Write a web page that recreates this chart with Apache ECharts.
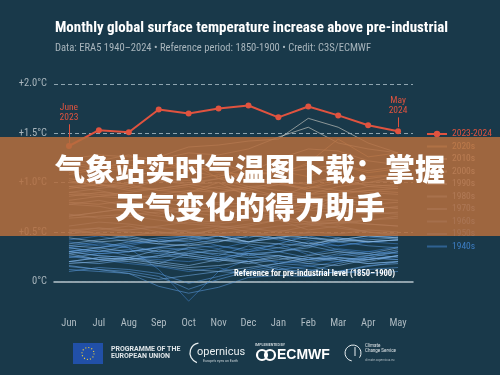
<!DOCTYPE html>
<html lang="en">
<head>
<meta charset="utf-8">
<script src="https://cdn.jsdelivr.net/npm/echarts@6/dist/echarts.min.js"></script>
</head>
<body style="margin:0;background:#19394a">
<div id="chart" style="width:500px;height:375px"></div>
<script>
// months run Jun -> May
var months = ['Jun','Jul','Aug','Sep','Oct','Nov','Dec','Jan','Feb','Mar','Apr','May'];
var recent = [1.37,1.53,1.51,1.74,1.70,1.75,1.78,1.66,1.77,1.68,1.58,1.52];

var d1940s = [
  [0.32,0.28,0.30,0.35,0.38,0.33,0.40,0.45,0.42,0.36,0.40,0.38],
  [0.42,0.46,0.40,0.38,0.44,0.36,0.30,0.38,0.27,0.33,0.30,0.35],
  [0.30,0.26,0.24,0.22,0.20,0.24,0.28,0.18,0.22,0.26,0.30,0.28],
  [0.34,0.38,0.36,0.42,0.46,0.40,0.48,0.42,0.36,0.40,0.44,0.46],
  [0.48,0.50,0.52,0.55,0.50,0.46,0.40,0.44,0.38,0.36,0.40,0.42],
  [0.40,0.36,0.34,0.12,-0.20,0.10,0.22,0.20,0.18,0.24,0.22,0.26],
  [0.25,0.22,0.18,0.15,0.10,0.14,0.06,0.12,0.15,0.20,0.24,0.22]
];
var d1950s = [
  [0.10,0.14,0.12,0.08,-0.02,0.05,0.12,0.18,0.16,0.10,0.15,0.20],
  [0.24,0.28,0.30,0.34,0.32,0.26,0.36,0.30,0.24,0.20,0.26,0.32],
  [0.34,0.30,0.32,0.28,0.26,0.22,0.30,0.34,0.40,0.32,0.28,0.24],
  [0.15,0.12,0.10,0.05,-0.08,0.02,0.10,0.16,0.12,0.08,0.12,0.14],
  [0.12,0.10,0.08,-0.05,-0.12,-0.06,0.04,0.06,0.05,0.10,0.08,0.10],
  [0.30,0.34,0.38,0.42,0.40,0.46,0.44,0.52,0.48,0.44,0.40,0.42],
  [0.36,0.40,0.34,0.30,0.34,0.36,0.32,0.38,0.46,0.40,0.36,0.34]
];
var d1960s = [
  [0.34,0.30,0.36,0.30,0.28,0.32,0.26,0.30,0.36,0.30,0.26,0.30],
  [0.28,0.32,0.26,0.24,0.30,0.28,0.24,0.26,0.22,0.28,0.24,0.30],
  [0.30,0.34,0.40,0.44,0.46,0.42,0.38,0.34,0.30,0.22,0.18,0.20],
  [0.16,0.12,0.08,0.02,0.06,0.10,0.08,0.14,0.06,0.10,0.16,0.18],
  [0.20,0.18,0.22,0.26,0.24,0.20,0.28,0.26,0.22,0.24,0.20,0.26],
  [0.26,0.22,0.24,0.18,0.28,0.24,0.20,0.12,0.10,0.18,0.24,0.22],
  [0.20,0.24,0.22,0.26,0.34,0.30,0.28,0.30,0.34,0.42,0.46,0.44]
];
var d1970s = [
  [0.30,0.26,0.24,0.32,0.26,0.22,0.20,0.24,0.18,0.16,0.22,0.26],
  [0.18,0.20,0.24,0.20,0.16,0.22,0.18,0.22,0.26,0.30,0.28,0.34],
  [0.38,0.42,0.46,0.40,0.44,0.48,0.52,0.56,0.58,0.54,0.50,0.46],
  [0.20,0.24,0.22,0.18,0.14,0.16,0.20,0.26,0.20,0.24,0.22,0.26],
  [0.28,0.22,0.20,0.16,0.12,0.10,0.14,0.18,0.24,0.22,0.18,0.20],
  [0.46,0.48,0.44,0.40,0.42,0.46,0.40,0.48,0.44,0.40,0.42,0.44],
  [0.36,0.34,0.30,0.34,0.38,0.42,0.40,0.38,0.36,0.44,0.40,0.42]
];
var d1980s = [
  [0.52,0.54,0.50,0.48,0.52,0.56,0.50,0.46,0.44,0.42,0.46,0.44],
  [0.48,0.52,0.56,0.50,0.46,0.54,0.58,0.62,0.52,0.56,0.50,0.48],
  [0.56,0.60,0.58,0.54,0.50,0.46,0.40,0.44,0.38,0.42,0.40,0.42],
  [0.44,0.40,0.42,0.38,0.36,0.40,0.46,0.44,0.50,0.48,0.52,0.50],
  [0.50,0.54,0.52,0.56,0.60,0.58,0.62,0.64,0.60,0.58,0.62,0.64],
  [0.66,0.70,0.74,0.72,0.68,0.74,0.78,0.76,0.80,0.72,0.70,0.68],
  [0.68,0.64,0.66,0.62,0.58,0.56,0.54,0.50,0.56,0.60,0.58,0.56]
];
var d1990s = [
  [0.66,0.70,0.74,0.68,0.76,0.72,0.70,0.74,0.72,0.70,0.76,0.74],
  [0.78,0.76,0.70,0.66,0.62,0.60,0.64,0.66,0.60,0.62,0.58,0.56],
  [0.52,0.48,0.46,0.50,0.48,0.52,0.56,0.62,0.58,0.60,0.62,0.66],
  [0.64,0.66,0.68,0.70,0.76,0.80,0.78,0.84,0.86,0.80,0.76,0.74],
  [0.78,0.82,0.76,0.72,0.70,0.66,0.64,0.70,0.76,0.72,0.68,0.70],
  [0.90,0.94,0.98,1.02,1.00,1.04,1.08,1.10,1.18,1.06,1.00,1.02],
  [0.96,0.92,0.86,0.80,0.76,0.72,0.74,0.70,0.80,0.74,0.72,0.76]
];
var d2000s = [
  [0.80,0.78,0.82,0.76,0.72,0.70,0.74,0.78,0.76,0.86,0.84,0.82],
  [0.86,0.90,0.88,0.84,0.90,0.96,0.92,0.98,1.00,1.06,0.96,0.94],
  [0.96,0.98,0.92,0.94,0.98,1.00,0.94,1.00,0.92,0.90,0.96,0.98],
  [0.88,0.86,0.90,0.94,0.98,1.04,0.96,0.98,0.94,1.00,0.98,0.96],
  [1.00,0.98,0.94,1.02,0.98,0.94,0.90,0.86,0.96,0.92,0.90,0.88],
  [0.90,0.88,0.86,0.84,0.80,0.78,0.74,0.68,0.72,0.84,0.78,0.80],
  [0.82,0.86,0.84,0.88,0.92,0.90,0.96,0.92,0.88,0.90,0.92,0.94]
];
var d2010s = [
  [1.00,1.02,0.98,0.92,0.90,1.00,0.86,0.82,0.84,0.88,0.92,0.90],
  [0.94,0.98,0.96,0.92,0.96,0.90,0.94,0.86,0.88,0.96,1.00,1.06],
  [1.02,0.96,1.00,1.04,1.02,1.08,1.04,1.02,0.98,1.06,1.04,1.08],
  [1.04,1.00,1.08,1.10,1.12,1.06,1.16,1.10,1.14,1.18,1.12,1.16],
  [1.18,1.14,1.22,1.26,1.36,1.38,1.42,1.44,1.65,1.56,1.40,1.30],
  [1.20,1.22,1.28,1.16,1.14,1.20,1.10,1.24,1.34,1.32,1.22,1.18],
  [1.24,1.28,1.26,1.24,1.30,1.28,1.34,1.46,1.56,1.40,1.34,1.30]
];
var d2020s = [
  [1.20,1.16,1.14,1.22,1.12,1.16,1.02,1.00,0.94,1.04,1.06,1.08],
  [1.08,1.14,1.12,1.20,1.18,1.10,1.08,1.12,1.06,1.18,1.10,1.14],
  [1.10,1.16,1.18,1.12,1.22,1.04,1.10,1.08,1.20,1.44,1.26,1.30]
];

var decades = ['2020s','2010s','2000s','1990s','1980s','1970s','1960s','1950s','1940s'];
var decadeData = [d2020s,d2010s,d2000s,d1990s,d1980s,d1970s,d1960s,d1950s,d1940s];
var decadeColors = ['#e6bf93','#d9d5cb','#c9d6dd','#b2cde3','#98bfe3','#80b1e0','#69a2da','#5592d2','#3d7dc2'];

var yTicks = [0, 0.5, 1.0, 1.5, 2.0];
var yTickLabels = ['0°C','+0.5°C','+1.0°C','+1.5°C','+2.0°C'];

var narrow = "'Liberation Sans Narrow', 'Roboto Condensed', Roboto, sans-serif";
var red = '#e0533f';

function fitScale(text, font, target) {
  var c = document.createElement('canvas').getContext('2d');
  c.font = font;
  return target / c.measureText(text).width;
}

var series = [];
for (var k = decades.length - 1; k >= 0; k--) {
  decadeData[k].forEach(function (row) {
    series.push({
      name: decades[k], type: 'line', data: row, symbol: 'none', silent: true, z: 2,
      lineStyle: {color: decadeColors[k], width: 1, opacity: 0.6},
      itemStyle: {color: decadeColors[k]}
    });
  });
}

var gridMarks = yTicks.map(function (v, i) {
  return {
    yAxis: v,
    lineStyle: {type: [4, 3], color: '#8fa5b0', width: 1},
    label: {position: 'start', formatter: yTickLabels[i], color: '#a9b6bd', fontSize: 10.5, fontFamily: narrow, distance: 7}
  };
});
gridMarks.push({
  yAxis: 0,
  lineStyle: {type: [4, 3], color: '#8fa5b0', width: 1},
  label: {position: 'insideEndTop', formatter: 'Reference for pre-industrial level (1850\u20131900)',
    color: '#ffffff', fontWeight: 'bold', fontSize: 8.6, fontFamily: narrow, distance: [18, 3]}
});
gridMarks.push([
  {coord: ['Jun', 1.40], lineStyle: {type: 'solid', color: red, width: 1},
   label: {position: 'end', formatter: 'June\n2023', color: red, fontSize: 9.5, lineHeight: 10, fontFamily: narrow, distance: 2}},
  {coord: ['Jun', 1.59]}
]);
gridMarks.push([
  {coord: ['May', 1.56], lineStyle: {type: 'solid', color: red, width: 1},
   label: {position: 'end', formatter: 'May\n2024', color: red, fontSize: 9.5, lineHeight: 10, fontFamily: narrow, distance: 2}},
  {coord: ['May', 1.66]}
]);

series.push({
  name: '2023-2024', type: 'line', data: recent, z: 10,
  symbol: 'circle', symbolSize: 6,
  lineStyle: {color: red, width: 2}, itemStyle: {color: red},
  markLine: {silent: true, symbol: 'none', data: gridMarks}
});

var legendData = [{name: '2023-2024', textStyle: {color: red}}].concat(decades.map(function (d, i) {
  return {name: d, textStyle: {color: decadeColors[i]}, itemStyle: {opacity: 0}};
}));

var title = 'Monthly global surface temperature increase above pre-industrial';
var sub = 'Data: ERA5 1940\u20132024 \u2022 Reference period: 1850-1900 \u2022 Credit: C3S/ECMWF';
var titleFont = 'bold 15px ' + narrow;
var subFont = '10px ' + narrow;

var chart = echarts.init(document.getElementById('chart'));
chart.setOption({
  backgroundColor: '#19394a',
  animation: false,
  grid: {left: 54, right: 87, top: 64, bottom: 64},
  xAxis: {
    type: 'category', data: months,
    axisLine: {lineStyle: {color: '#b8c4ca', width: 1.5}},
    axisTick: {inside: true, length: 3, lineStyle: {color: '#b8c4ca'}},
    axisLabel: {color: '#aebbc2', fontSize: 10.5, fontFamily: narrow, margin: 7}
  },
  yAxis: {type: 'value', min: -0.3, max: 2.2, show: false, splitLine: {show: false}},
  legend: {
    orient: 'vertical', left: 421, top: 124, itemWidth: 20, itemHeight: 8, itemGap: 2.5,
    selectedMode: false, data: legendData,
    textStyle: {fontSize: 9.5, fontFamily: narrow}
  },
  series: series,
  graphic: [
    {type: 'text', x: 55, y: 28, scaleX: fitScale(title, titleFont, 393), silent: true,
     style: {text: title, fill: '#ffffff', font: titleFont, verticalAlign: 'middle'}},
    {type: 'text', x: 55, y: 48, scaleX: fitScale(sub, subFont, 316), silent: true,
     style: {text: sub, fill: '#a9b6bd', font: subFont, verticalAlign: 'middle'}},
    // banner
    {type: 'rect', z: 100, silent: true, shape: {x: 0, y: 137, width: 500, height: 99},
     style: {fill: 'rgba(180,110,62,0.86)'}},
    {type: 'text', z: 101, silent: true, x: 250, y: 169,
     style: {text: '气象站实时气温图下载：掌握', fill: '#ffffff', fontSize: 30, fontWeight: 900,
       fontFamily: 'Noto Sans CJK SC', align: 'center', verticalAlign: 'middle',
       shadowColor: 'rgba(50,30,15,0.9)', shadowBlur: 3, shadowOffsetX: 1, shadowOffsetY: 1}},
    {type: 'text', z: 101, silent: true, x: 250, y: 207,
     style: {text: '天气变化的得力助手', fill: '#ffffff', fontSize: 30, fontWeight: 900,
       fontFamily: 'Noto Sans CJK SC', align: 'center', verticalAlign: 'middle',
       shadowColor: 'rgba(50,30,15,0.9)', shadowBlur: 3, shadowOffsetX: 1, shadowOffsetY: 1}},
    // footer logos
    {type: 'rect', silent: true, shape: {x: 73, y: 343, width: 30, height: 21}, style: {fill: '#2150a8'}},
    {type: 'circle', silent: true, shape: {cx: 88, cy: 353.5, r: 6}, style: {fill: 'none', stroke: '#f2d33a', lineWidth: 1.2, lineDash: [1, 2.1]}},
    {type: 'text', silent: true, x: 111, y: 349, style: {text: 'PROGRAMME OF THE', fill: '#dfe5e8', font: 'bold 7px Roboto', verticalAlign: 'middle'}},
    {type: 'text', silent: true, x: 111, y: 356.5, style: {text: 'EUROPEAN UNION', fill: '#dfe5e8', font: 'bold 7px Roboto', verticalAlign: 'middle'}},
    {type: 'arc', silent: true, shape: {cx: 200, cy: 353, r: 10, startAngle: Math.PI * 0.6, endAngle: Math.PI * 1.45}, style: {stroke: '#e8eef0', lineWidth: 1.3, fill: 'none'}},
    {type: 'text', silent: true, x: 197, y: 352, style: {text: 'opernicus', fill: '#e8eef0', font: '11px Roboto', verticalAlign: 'middle'}},
    {type: 'text', silent: true, x: 203, y: 361, style: {text: "Europe's eyes on Earth", fill: '#c7d1d6', font: '3.5px Roboto', verticalAlign: 'middle'}},
    {type: 'text', silent: true, x: 255, y: 345, style: {text: 'IMPLEMENTED BY', fill: '#c7d1d6', font: 'bold 3.6px Roboto', verticalAlign: 'middle'}},
    {type: 'circle', silent: true, shape: {cx: 262, cy: 355, r: 5}, style: {fill: 'none', stroke: '#ffffff', lineWidth: 2.2}},
    {type: 'circle', silent: true, shape: {cx: 270, cy: 355, r: 5}, style: {fill: 'none', stroke: '#ffffff', lineWidth: 2.2}},
    {type: 'text', silent: true, x: 277, y: 355.5, style: {text: 'ECMWF', fill: '#ffffff', font: 'bold 14px Liberation Sans', verticalAlign: 'middle'}},
    {type: 'arc', silent: true, shape: {cx: 353, cy: 353, r: 8, startAngle: Math.PI * 0.55, endAngle: Math.PI * 2.2}, style: {stroke: '#e8eef0', lineWidth: 1, fill: 'none'}},
    {type: 'line', silent: true, shape: {x1: 355, y1: 347, x2: 355, y2: 356}, style: {stroke: '#e8eef0', lineWidth: 1}},
    {type: 'text', silent: true, x: 365, y: 345.5, style: {text: 'Climate', fill: '#dfe5e8', font: '4.5px Roboto', verticalAlign: 'middle'}},
    {type: 'text', silent: true, x: 365, y: 351, style: {text: 'Change Service', fill: '#dfe5e8', font: '4.5px Roboto', verticalAlign: 'middle'}},
    {type: 'text', silent: true, x: 365, y: 360, style: {text: 'climate.copernicus.eu', fill: '#aab7be', font: '3px Roboto', verticalAlign: 'middle'}}
  ]
});
</script>
</body>
</html>
